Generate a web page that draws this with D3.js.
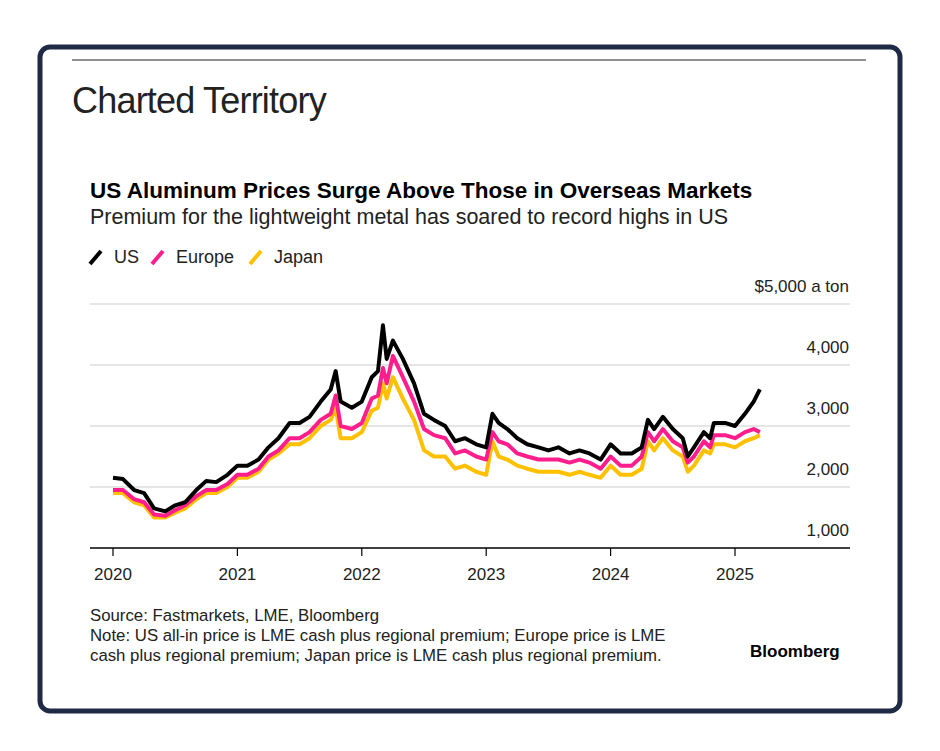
<!DOCTYPE html>
<html><head><meta charset="utf-8">
<script src="https://cdn.jsdelivr.net/npm/d3@7"></script>
<style>body{margin:0;background:#fff;font-family:"Helvetica Neue",Arial,"Liberation Sans",sans-serif}</style>
</head><body><svg id="c" width="940" height="751"></svg>
<script>
const dates=[2020.0,2020.08,2020.17,2020.25,2020.33,2020.42,2020.5,2020.58,2020.67,2020.75,2020.83,2020.92,2021.0,2021.08,2021.17,2021.25,2021.33,2021.42,2021.5,2021.58,2021.67,2021.75,2021.79,2021.83,2021.92,2022.0,2022.08,2022.13,2022.17,2022.2,2022.25,2022.33,2022.42,2022.5,2022.58,2022.67,2022.75,2022.83,2022.92,2023.0,2023.05,2023.1,2023.17,2023.25,2023.33,2023.42,2023.5,2023.58,2023.67,2023.75,2023.83,2023.92,2024.0,2024.08,2024.17,2024.25,2024.3,2024.35,2024.42,2024.5,2024.58,2024.62,2024.67,2024.75,2024.8,2024.83,2024.92,2025.0,2025.08,2025.15,2025.2];
const us=[2150,2130,1950,1900,1650,1600,1700,1750,1950,2100,2080,2200,2350,2350,2450,2650,2800,3050,3050,3150,3400,3600,3900,3400,3300,3400,3800,3900,4650,4100,4400,4100,3700,3200,3100,3000,2750,2800,2700,2650,3200,3050,2950,2800,2700,2650,2600,2650,2550,2600,2550,2450,2700,2550,2550,2650,3100,2950,3150,2950,2800,2500,2650,2900,2800,3050,3050,3000,3200,3400,3600];
const europe=[1950,1950,1800,1750,1550,1530,1620,1700,1850,1950,1950,2050,2200,2200,2300,2500,2600,2800,2800,2900,3100,3200,3500,3000,2950,3050,3450,3500,3950,3700,4150,3800,3400,2950,2850,2800,2550,2600,2500,2450,2900,2750,2700,2550,2500,2450,2450,2450,2400,2450,2400,2300,2500,2350,2350,2500,2900,2750,2950,2750,2650,2400,2500,2750,2650,2850,2850,2800,2900,2950,2900];
const japan=[1900,1900,1750,1700,1500,1500,1580,1650,1800,1900,1900,2000,2150,2150,2250,2450,2550,2700,2700,2800,3000,3100,3300,2800,2800,2900,3250,3300,3700,3450,3800,3450,3100,2600,2500,2500,2300,2350,2250,2200,2750,2500,2450,2350,2300,2250,2250,2250,2200,2250,2200,2150,2350,2200,2200,2300,2750,2600,2800,2600,2500,2250,2350,2600,2550,2700,2700,2650,2750,2800,2850];
const xTicks=[2020,2021,2022,2023,2024,2025];
const yTicks=[1000,2000,3000,4000,5000];
const seriesNames=["US","Europe","Japan"];
const colors=["#000000","#ff1e8c","#ffc000"];

const svg=d3.select("#c");
svg.append("rect").attr("x",40).attr("y",47).attr("width",860).attr("height",664).attr("rx",10)
  .attr("fill","#fff").attr("stroke","#1f2b45").attr("stroke-width",5);
svg.append("line").attr("x1",72).attr("x2",866).attr("y1",60).attr("y2",60).attr("stroke","#222").attr("stroke-width",1);
svg.append("text").attr("x",72).attr("y",113).text("Charted Territory").attr("font-size",36).attr("letter-spacing",-0.8).attr("fill","#222").attr("font-family","Arial,Liberation Sans");
svg.append("text").attr("x",90).attr("y",198).text("US Aluminum Prices Surge Above Those in Overseas Markets").attr("font-size",22.5).attr("font-weight","bold").attr("fill","#000");
svg.append("text").attr("x",90).attr("y",224).text("Premium for the lightweight metal has soared to record highs in US").attr("font-size",21.5).attr("fill","#222");

const x=d3.scaleLinear().domain([2020,2025]).range([113,735]);
const y=d3.scaleLinear().domain([1000,5000]).range([548,304]);

const lg=[[90,"US"],[152,"Europe"],[250,"Japan"]];
lg.forEach((d,i)=>{
  svg.append("line").attr("x1",d[0]).attr("x2",d[0]+11).attr("y1",264).attr("y2",251).attr("stroke",colors[i]).attr("stroke-width",4);
  svg.append("text").attr("x",d[0]+24).attr("y",263).text(seriesNames[i]).attr("font-size",18).attr("fill","#222");
});

yTicks.slice(1).forEach(v=>{
  svg.append("line").attr("x1",90).attr("x2",850).attr("y1",y(v)).attr("y2",y(v)).attr("stroke","#ddd").attr("stroke-width",1.5);
});
yTicks.forEach(v=>{
  svg.append("text").attr("x",849).attr("y",y(v)-12).attr("text-anchor","end").attr("font-size",17).attr("fill","#222")
   .text(v===5000?"$5,000 a ton":d3.format(",")(v));
});
svg.append("line").attr("x1",90).attr("x2",850).attr("y1",548).attr("y2",548).attr("stroke","#000").attr("stroke-width",1.5);
xTicks.forEach(t=>{
  svg.append("line").attr("x1",x(t)).attr("x2",x(t)).attr("y1",548).attr("y2",556).attr("stroke","#000").attr("stroke-width",1.2);
  svg.append("text").attr("x",x(t)).attr("y",580).attr("text-anchor","middle").attr("font-size",17).attr("fill","#222").text(t);
});

const line=d3.line().x((d,i)=>x(dates[i])).y(d=>y(d));
[japan,europe,us].forEach((s,k)=>{
  svg.append("path").attr("d",line(s)).attr("fill","none").attr("stroke",colors[2-k]).attr("stroke-width",4).attr("stroke-linejoin","round");
});

["Source: Fastmarkets, LME, Bloomberg","Note: US all-in price is LME cash plus regional premium; Europe price is LME","cash plus regional premium; Japan price is LME cash plus regional premium."]
.forEach((t,i)=>svg.append("text").attr("x",90).attr("y",621+i*20).attr("font-size",16.8).attr("fill","#222").text(t));
svg.append("text").attr("x",750).attr("y",657).attr("font-size",17).attr("font-weight","bold").attr("fill","#000").text("Bloomberg");
</script></body></html>
